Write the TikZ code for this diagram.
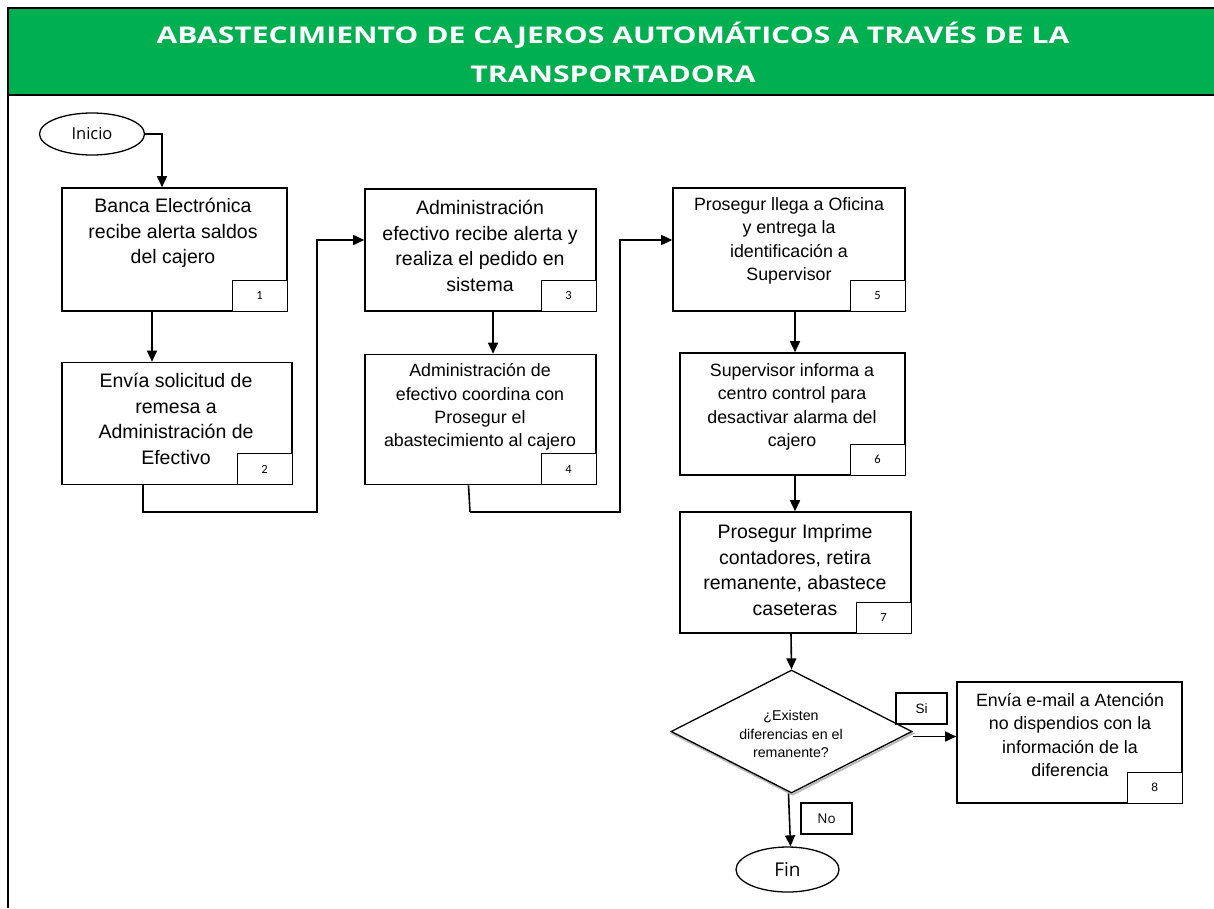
\documentclass[tikz,border=0pt]{standalone}
\usepackage{fontspec}
\setmainfont{Liberation Sans}
\newfontfamily\calfont{Carlito}
\newfontfamily\opfont{Open Sans}
\newfontfamily\titlefont{Open Sans}[FakeStretch=1.31]
\usetikzlibrary{arrows.meta,shapes.geometric,calc}
\definecolor{hdrgreen}{RGB}{0,176,80}
\begin{document}
\begin{tikzpicture}[x=1pt,y=-1pt,
  box/.style={draw,line width=1.6pt,rectangle,inner sep=0pt},
  num/.style={draw,line width=1.3pt,fill=white,minimum width=55pt,minimum height=31pt,inner sep=0pt,font=\calfont\fontsize{12.5}{14}\selectfont,anchor=south east},
  bigtxt/.style={align=center,inner sep=0pt,font=\fontsize{19.5}{25.5}\selectfont},
  midtxt/.style={align=center,inner sep=0pt,font=\fontsize{17.8}{23.3}\selectfont},
  arr/.style={line width=1.6pt,-{Triangle[length=11pt,width=10pt]}},
  conn/.style={line width=1.6pt},
  term/.style={draw,line width=1.3pt,ellipse,inner sep=0pt},
  lbl/.style={draw,line width=1.3pt,minimum width=51pt,minimum height=31pt,inner sep=0pt,font=\fontsize{13.5}{15}\selectfont}
]
\useasboundingbox (0,0) rectangle (1214,908);
% header
\fill[hdrgreen] (8,8) rectangle (1214,95);
\draw[line width=2.5pt] (1214,8) -- (8,8) -- (8,908);
\draw[line width=2pt] (8,95) -- (1214,95);
\node[text=white,align=center,font=\titlefont\bfseries\fontsize{23}{39}\selectfont] (title) at (613,52) {ABASTECIMIENTO DE CAJEROS AUTOMÁTICOS A TRAVÉS DE LA\\TRANSPORTADORA};

% terminals
\node[term,minimum width=105pt,minimum height=42pt,font=\opfont\fontsize{16.5}{18}\selectfont] (ini) at (92,134) {Inicio};
\node[term,minimum width=103pt,minimum height=45pt,font=\opfont\fontsize{19}{21}\selectfont] (fin) at (787.5,869.5) {Fin};

% process boxes
\node[box,minimum width=225pt,minimum height=123pt] (b1) at (174.5,249.5) {};
\node[box,minimum width=230pt,minimum height=122pt] (b2) at (177,423.5) {};
\node[box,minimum width=231pt,minimum height=122pt] (b3) at (480.5,250) {};
\node[box,minimum width=231pt,minimum height=130pt] (b4) at (480.5,419.5) {};
\node[box,minimum width=232pt,minimum height=123pt] (b5) at (789,249.5) {};
\node[box,minimum width=225pt,minimum height=122pt] (b6) at (792.5,414) {};
\node[box,minimum width=231pt,minimum height=121pt] (b7) at (795.5,572.5) {};
\node[box,minimum width=225pt,minimum height=121pt] (b8) at (1069.5,742.5) {};

% texts
\node[bigtxt] (t1) at (173,233) {Banca Electrónica\\recibe alerta saldos\\del cajero};
\node[bigtxt] (t2) at (176,419) {Envía solicitud de\\remesa a\\Administración de\\Efectivo};
\node[bigtxt] (t3) at (480,246) {Administración\\efectivo recibe alerta y\\realiza el pedido en\\sistema};
\node[midtxt] (t4) at (480,407) {Administración de\\efectivo coordina con\\Prosegur el\\abastecimiento al cajero};
\node[midtxt] (t5) at (789,241) {Prosegur llega a Oficina\\y entrega la\\identificación a\\Supervisor};
\node[midtxt] (t6) at (792,407) {Supervisor informa a\\centro control para\\desactivar alarma del\\cajero};
\node[bigtxt] (t7) at (795,570) {Prosegur Imprime\\contadores, retira\\remanente, abastece\\caseteras};
\node[midtxt] (t8) at (1070,735) {Envía e-mail a Atención\\no dispendios con la\\información de la\\diferencia};

% number boxes
\node[num] (n1) at (b1.south east) {1};
\node[num] (n2) at (b2.south east) {2};
\node[num] (n3) at (b3.south east) {3};
\node[num] (n4) at (b4.south east) {4};
\node[num] (n5) at (b5.south east) {5};
\node[num] (n6) at (b6.south east) {6};
\node[num] (n7) at (b7.south east) {7};
\node[num,font=\fontsize{12}{14}\selectfont] (n8) at (b8.south east) {8};

% decision
\node[diamond,draw=gray!55,line width=2pt,inner sep=0pt,minimum width=241pt,minimum height=123pt] (dsh) at (792.5,733.5) {};
\node[diamond,draw,fill=white,line width=1.3pt,inner sep=0pt,minimum width=241pt,minimum height=123pt] (d) at (791.5,731.5) {};
\node[align=center,inner sep=0pt,font=\fontsize{14.2}{18.5}\selectfont] (dt) at (791,734) {¿Existen\\diferencias en el\\remanente?};
\node[lbl] (si) at (921.5,708.5) {Si};
\node[lbl,font=\opfont\fontsize{13.5}{15}\selectfont] (no) at (826.5,818.5) {No};

% connectors
\draw[arr] (ini.east) -| ([xshift=-12.5pt]b1.north);
\draw[arr] ([xshift=-22.5pt]b1.south) -- ([xshift=-22.5pt]b1.south |- b2.north);
\coordinate (j1) at (317,512);
\coordinate (j2) at (317,240);
\draw[arr] ([xshift=-34pt]b2.south) |- (j1) -- (j2) -- (b3.west |- j2);
\draw[arr] ([xshift=12.5pt]b3.south) -- ([xshift=12.5pt]b3.south |- b4.north);
\coordinate (j3) at (470,512);
\coordinate (j4) at (620,512);
\coordinate (j5) at (620,240);
\draw[conn] ([xshift=-12pt]b4.south) -- (j3);
\draw[arr] (j3) -- (j4) -- (j5) -- (b5.west |- j5);
\draw[arr] ([xshift=6pt]b5.south) -- ([xshift=6pt]b5.south |- b6.north);
\draw[arr] ([xshift=2.5pt]b6.south) -- ([xshift=2.5pt]b6.south |- b7.north);
\draw[arr] ([xshift=-4.5pt]b7.south) -- (d.north);
\draw[arr] ([yshift=-5pt]d.east) -- ([yshift=-5pt]d.east -| b8.west);
\draw[arr] ([xshift=-3pt]d.south) -- ([xshift=3pt]fin.north);
\end{tikzpicture}
\end{document}
